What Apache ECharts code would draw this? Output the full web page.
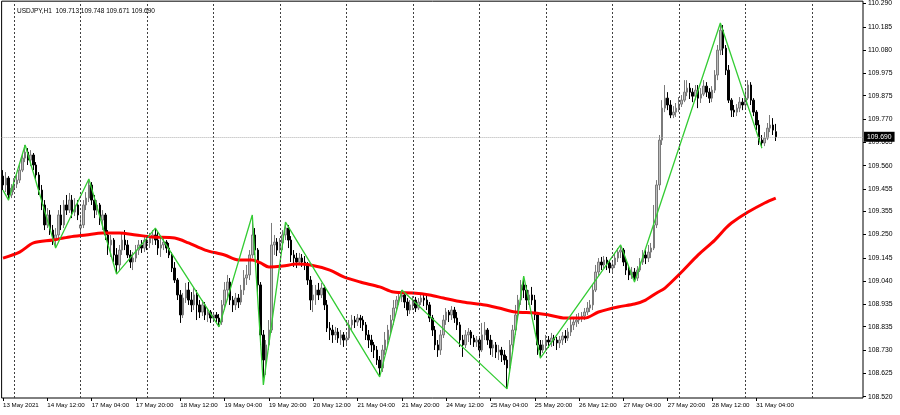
<!DOCTYPE html>
<html>
<head>
<meta charset="utf-8">
<script src="https://cdn.jsdelivr.net/npm/echarts@6/dist/echarts.min.js"></script>
<style>html,body{margin:0;padding:0;background:#fff;}#c{width:900px;height:415px;}</style>
</head>
<body>
<div id="c"></div>
<script>
// trading days shown on the chart (H1 bars)
const days = ['14 May','17 May','18 May','19 May','20 May','21 May','24 May','25 May','26 May','27 May','28 May','31 May','1 Jun'];
const firstDay = '13 May';
const firstHour = 20;
const totalSlots = 311;
const titleText = 'USDJPY,H1  109.713 109.748 109.671 109.690';
const lastPrice = 109.690;
const yTicks = ['108.520','108.625','108.730','108.835','108.935','109.040','109.145','109.250','109.355','109.455','109.560','109.665','109.770','109.875','109.975','110.080','110.185','110.290'];

// candles: [open, close, low, high]
const candles = [
[109.513,109.473,109.450,109.540],[109.473,109.504,109.441,109.531],[109.504,109.428,109.405,109.513],[109.428,109.459,109.414,109.477],
[109.459,109.477,109.441,109.504],[109.477,109.495,109.459,109.518],[109.495,109.540,109.482,109.563],[109.540,109.594,109.531,109.617],
[109.594,109.621,109.576,109.653],[109.621,109.585,109.563,109.639],[109.585,109.608,109.558,109.630],[109.608,109.563,109.540,109.617],
[109.563,109.518,109.495,109.576],[109.518,109.450,109.428,109.531],[109.450,109.383,109.360,109.473],[109.383,109.293,109.270,109.405],
[109.293,109.338,109.279,109.369],[109.338,109.270,109.248,109.360],[109.270,109.225,109.203,109.293],[109.225,109.248,109.189,109.279],
[109.248,109.338,109.234,109.360],[109.338,109.293,109.270,109.383],[109.293,109.383,109.279,109.405],[109.383,109.360,109.338,109.428],
[109.360,109.405,109.347,109.437],[109.405,109.351,109.324,109.428],[109.351,109.383,109.333,109.414],[109.383,109.338,109.315,109.405],
[109.279,109.293,109.257,109.338],[109.293,109.383,109.279,109.405],[109.383,109.414,109.360,109.441],[109.414,109.473,109.396,109.500],
[109.473,109.405,109.383,109.486],[109.405,109.360,109.324,109.428],[109.360,109.383,109.338,109.405],[109.383,109.315,109.293,109.392],
[109.315,109.338,109.270,109.360],[109.338,109.248,109.225,109.347],[109.248,109.203,109.158,109.270],[109.203,109.225,109.149,109.248],
[109.225,109.158,109.126,109.234],[109.158,109.113,109.072,109.189],[109.113,109.180,109.090,109.203],[109.180,109.225,109.158,109.261],
[109.225,109.203,109.180,109.270],[109.203,109.158,109.144,109.225],[109.158,109.126,109.099,109.180],[109.126,109.144,109.090,109.171],
[109.144,109.180,109.126,109.203],[109.180,109.203,109.158,109.225],[109.203,109.189,109.167,109.225],[109.189,109.225,109.171,109.248],
[109.225,109.212,109.180,109.243],[109.212,109.234,109.189,109.257],[109.234,109.248,109.203,109.270],[109.248,109.225,109.203,109.279],
[109.225,109.189,109.158,109.261],[109.189,109.203,109.149,109.234],[109.203,109.216,109.180,109.234],[109.216,109.189,109.167,109.225],
[109.189,109.158,109.144,109.212],[109.158,109.099,109.081,109.171],[109.099,109.045,109.032,109.126],[109.045,108.978,108.955,109.054],
[108.978,108.888,108.852,109.000],[108.888,108.964,108.874,108.987],[108.964,109.000,108.942,109.032],[109.000,108.955,108.933,109.036],
[108.955,108.933,108.901,108.991],[108.933,108.978,108.910,109.009],[108.978,108.933,108.865,109.000],[108.933,108.901,108.874,108.955],
[108.901,108.933,108.883,108.955],[108.933,108.888,108.865,108.946],[108.888,108.901,108.856,108.919],[108.901,108.874,108.852,108.910],
[108.874,108.888,108.861,108.901],[108.888,108.874,108.856,108.901],[108.874,108.856,108.834,108.892],[108.856,108.933,108.843,108.955],
[108.933,109.000,108.910,109.036],[109.000,109.036,108.955,109.068],[109.036,108.955,108.933,109.054],[108.955,108.933,108.901,108.973],
[108.933,108.964,108.910,108.987],[108.964,108.946,108.919,108.982],[108.946,109.000,108.933,109.023],[109.000,109.054,108.978,109.090],
[109.054,109.068,109.023,109.113],[109.068,109.158,109.045,109.180],[109.158,109.248,109.144,109.338],[109.248,109.180,109.158,109.279],
[109.180,109.023,108.991,109.189],[109.023,108.798,108.753,109.036],[108.798,108.685,108.573,108.820],[108.685,108.753,108.618,108.775],
[108.753,108.820,108.730,108.865],[108.820,109.203,108.807,109.302],[109.203,109.216,109.158,109.248],[109.216,109.180,109.153,109.234],
[109.180,109.212,109.167,109.234],[109.212,109.248,109.180,109.270],[109.248,109.279,109.225,109.306],[109.279,109.225,109.189,109.293],
[109.225,109.158,109.126,109.243],[109.158,109.144,109.104,109.180],[109.144,109.126,109.099,109.167],[109.126,109.144,109.113,109.167],
[109.144,109.126,109.104,109.162],[109.126,109.113,109.090,109.153],[109.113,109.045,109.023,109.126],[109.045,108.955,108.910,109.063],
[108.955,108.978,108.901,109.023],[108.978,109.000,108.933,109.023],[109.000,108.978,108.955,109.032],[108.978,109.009,108.964,109.032],
[109.009,108.933,108.910,109.023],[108.933,108.829,108.811,108.955],[108.829,108.820,108.775,108.856],[108.820,108.798,108.762,108.843],
[108.798,108.811,108.775,108.834],[108.811,108.784,108.762,108.829],[108.784,108.798,108.753,108.820],[108.798,108.775,108.744,108.811],
[108.775,108.784,108.753,108.807],[108.784,108.843,108.775,108.865],[108.843,108.865,108.820,108.888],[108.865,108.856,108.829,108.883],
[108.856,108.874,108.838,108.892],[108.874,108.865,108.829,108.888],[108.865,108.843,108.816,108.883],[108.843,108.798,108.775,108.856],
[108.798,108.775,108.739,108.820],[108.775,108.753,108.721,108.798],[108.753,108.730,108.694,108.766],[108.730,108.685,108.663,108.748],
[108.685,108.649,108.609,108.703],[108.649,108.730,108.631,108.753],[108.730,108.775,108.708,108.811],[108.775,108.820,108.753,108.843],
[108.820,108.865,108.798,108.888],[108.865,108.919,108.843,108.955],[108.919,108.955,108.901,108.973],[108.955,108.969,108.933,108.991],
[108.969,108.978,108.946,109.000],[108.978,108.946,108.919,108.991],[108.946,108.910,108.883,108.964],[108.910,108.933,108.892,108.955],
[108.933,108.955,108.910,108.973],[108.955,108.919,108.901,108.969],[108.919,108.946,108.910,108.964],[108.946,108.964,108.933,108.987],
[108.964,108.955,108.928,108.982],[108.955,108.933,108.910,108.978],[108.933,108.874,108.856,108.946],[108.874,108.820,108.793,108.888],
[108.820,108.753,108.730,108.838],[108.753,108.730,108.699,108.775],[108.730,108.798,108.708,108.820],[108.798,108.865,108.784,108.888],
[108.865,108.901,108.843,108.919],[108.901,108.888,108.856,108.910],[108.888,108.910,108.865,108.928],[108.910,108.874,108.852,108.924],
[108.874,108.843,108.820,108.901],[108.843,108.775,108.744,108.856],[108.775,108.753,108.699,108.798],[108.753,108.798,108.739,108.820],
[108.798,108.811,108.766,108.829],[108.811,108.784,108.753,108.820],[108.784,108.766,108.744,108.798],[108.766,108.775,108.744,108.793],
[108.775,108.730,108.699,108.789],[108.730,108.798,108.721,108.852],[108.798,108.820,108.775,108.856],[108.820,108.775,108.753,108.829],
[108.775,108.739,108.708,108.798],[108.739,108.753,108.699,108.775],[108.753,108.721,108.694,108.766],[108.721,108.730,108.685,108.753],
[108.730,108.708,108.676,108.744],[108.708,108.685,108.663,108.730],[108.685,108.649,108.555,108.703],[108.649,108.753,108.631,108.775],
[108.753,108.820,108.730,108.843],[108.820,108.888,108.798,108.933],[108.888,108.955,108.865,108.978],[108.955,109.023,108.933,109.045],
[109.023,109.000,108.964,109.063],[109.000,108.955,108.910,109.023],[108.955,108.978,108.933,109.000],[108.978,108.955,108.933,109.014],
[108.955,108.888,108.865,108.978],[108.888,108.753,108.708,108.901],[108.753,108.730,108.694,108.775],[108.730,108.753,108.717,108.775],
[108.753,108.775,108.730,108.798],[108.775,108.766,108.739,108.793],[108.766,108.784,108.744,108.807],[108.784,108.775,108.748,108.798],
[108.775,108.762,108.730,108.789],[108.762,108.775,108.739,108.793],[108.775,108.793,108.753,108.811],[108.793,108.784,108.762,108.820],
[108.784,108.811,108.771,108.829],[108.811,108.843,108.793,108.874],[108.843,108.856,108.820,108.879],[108.856,108.865,108.834,108.892],
[108.865,108.874,108.847,108.897],[108.874,108.883,108.856,108.901],[108.883,108.901,108.865,108.919],[108.901,108.919,108.888,108.946],
[108.919,108.933,108.901,108.955],[108.933,109.000,108.910,109.023],[109.000,109.081,108.991,109.113],[109.081,109.126,109.063,109.144],
[109.126,109.113,109.090,109.149],[109.113,109.135,109.099,109.153],[109.135,109.122,109.090,109.149],[109.122,109.099,109.077,109.135],
[109.099,109.113,109.081,109.135],[109.113,109.144,109.099,109.167],[109.144,109.171,109.126,109.189],[109.171,109.180,109.144,109.203],
[109.180,109.126,109.108,109.189],[109.126,109.090,109.068,109.144],[109.090,109.068,109.045,109.108],[109.068,109.081,109.050,109.104],
[109.081,109.054,109.036,109.099],[109.054,109.090,109.041,109.108],[109.090,109.126,109.081,109.144],[109.126,109.158,109.113,109.180],
[109.158,109.144,109.117,109.180],[109.144,109.171,109.126,109.203],[109.171,109.189,109.144,109.212],[109.189,109.293,109.180,109.383],
[109.293,109.473,109.279,109.495],[109.473,109.675,109.450,109.698],[109.675,109.819,109.653,109.855],[109.819,109.864,109.801,109.923],
[109.864,109.833,109.810,109.891],[109.833,109.788,109.774,109.855],[109.788,109.801,109.774,109.828],[109.801,109.819,109.779,109.842],
[109.819,109.837,109.801,109.869],[109.837,109.855,109.824,109.878],[109.855,109.891,109.846,109.945],[109.891,109.909,109.873,109.945],
[109.909,109.891,109.860,109.932],[109.891,109.873,109.846,109.909],[109.873,109.900,109.855,109.923],[109.900,109.864,109.819,109.923],
[109.864,109.882,109.842,109.909],[109.882,109.918,109.873,109.945],[109.918,109.891,109.869,109.936],[109.891,109.864,109.842,109.909],
[109.864,109.900,109.846,109.918],[109.900,109.968,109.887,109.990],[109.968,110.080,109.945,110.103],[110.080,110.170,110.058,110.202],
[110.170,110.089,110.058,110.193],[110.089,109.990,109.968,110.103],[109.990,109.855,109.842,110.013],[109.855,109.810,109.779,109.864],
[109.810,109.801,109.779,109.833],[109.801,109.819,109.783,109.837],[109.819,109.846,109.801,109.869],[109.846,109.833,109.810,109.864],
[109.833,109.864,109.819,109.900],[109.864,109.923,109.855,109.945],[109.923,109.855,109.833,109.936],[109.855,109.801,109.783,109.864],
[109.801,109.743,109.720,109.810],[109.743,109.675,109.653,109.765],[109.675,109.662,109.639,109.698],[109.662,109.684,109.648,109.711],
[109.684,109.729,109.675,109.752],[109.729,109.743,109.711,109.788],[109.743,109.720,109.698,109.774],[109.713,109.690,109.671,109.748]
];

// moving average readings: [bar index, value]
const maPoints = [[0,109.144],[6,109.171],[11,109.212],[18,109.225],[24,109.239],[30,109.248],[36,109.257],[42,109.257],[48,109.248],[54,109.239],
[62,109.234],[67,109.212],[73,109.180],[80,109.158],[85,109.135],[90,109.135],[93,109.122],[96,109.104],[101,109.108],[106,109.117],[111,109.113],
[118,109.090],[123,109.059],[129,109.036],[136,109.014],[141,108.991],[148,108.987],[154,108.978],[159,108.964],[166,108.946],[174,108.933],
[179,108.919],[185,108.901],[192,108.897],[197,108.888],[203,108.874],[210,108.874],[215,108.901],[222,108.924],[228,108.937],[232,108.955],
[236,108.987],[239,109.009],[245,109.081],[251,109.158],[257,109.225],[261,109.279],[263,109.302],[269,109.351],[275,109.392],[279,109.414]];

// zigzag pivots: [bar index, price]
const zigzag = [[0,109.450],[2,109.405],[8,109.653],[19,109.189],[31,109.500],[41,109.072],[55,109.279],[78,108.834],[90,109.338],[94,108.573],
[102,109.306],[136,108.609],[144,109.000],[182,108.555],[188,109.063],[194,108.694],[223,109.203],[228,109.036],[259,110.202],[274,109.639]];

// category names
const cats = [];
for (let h = firstHour; h < 24; h++) cats.push(firstDay + ' ' + String(h).padStart(2,'0') + ':00');
for (const d of days) for (let h = 0; h < 24; h++) if (cats.length < totalSlots) cats.push(d + ' ' + String(h).padStart(2,'0') + ':00');

const midnights = cats.filter(c => c.endsWith(' 00:00')).map(c => ({xAxis: c}));
const showLabel = (i) => i % 16 === 0 && i <= 272;

const chart = echarts.init(document.getElementById('c'), null, {renderer: 'canvas'});
chart.setOption({
  animation: false,
  backgroundColor: '#ffffff',
  title: {text: titleText, left: 12, top: 3, textStyle: {fontSize: 6.5, fontWeight: 'normal', color: '#000', fontFamily: 'Liberation Sans'}},
  grid: {left: 1, right: 37, top: 1, bottom: 17, show: true, borderColor: '#000', borderWidth: 1, backgroundColor: 'transparent'},
  xAxis: {
    type: 'category', data: cats, boundaryGap: true,
    axisLine: {show: false},
    axisTick: {show: true, interval: showLabel, alignWithLabel: true, length: 3, lineStyle: {color: '#000'}},
    axisLabel: {interval: showLabel, align: 'left', margin: 4, fontSize: 6.2, color: '#000', fontFamily: 'Liberation Sans',
      formatter: (v, i) => i === 0 ? '13 May 2021' : v},
    splitLine: {show: false}
  },
  yAxis: {
    type: 'value', position: 'right', min: 108.514, max: 110.3005, scale: true,
    axisLine: {show: false},
    axisTick: {show: true, customValues: yTicks.map(Number), length: 3, lineStyle: {color: '#000'}},
    axisLabel: {customValues: yTicks.map(Number), formatter: v => v.toFixed(3), margin: 5, fontSize: 6.8, color: '#000', fontFamily: 'Liberation Sans'},
    splitLine: {show: false}
  },
  series: [
    {type: 'line', data: [], z: 1, silent: true,
     markLine: {symbol: 'none', silent: true, label: {show: false}, lineStyle: {color: '#404040', type: [2, 2], width: 1}, data: midnights}},
    {type: 'candlestick', data: candles, barWidth: 2, z: 2,
     itemStyle: {color: '#bdbdbd', color0: '#000000', borderColor: '#7a7a7a', borderColor0: '#000000', borderWidth: 1},
     markLine: {symbol: 'none', silent: true, data: [{yAxis: lastPrice}],
       lineStyle: {color: '#b0b0b0', type: 'dotted', width: 1},
       label: {position: 'end', formatter: lastPrice.toFixed(3), backgroundColor: '#000', color: '#fff', fontSize: 6.8, padding: [2, 3, 1, 3], distance: 1, fontFamily: 'Liberation Sans'}}},
    {type: 'line', data: maPoints, smooth: 0.3, showSymbol: false, z: 3, lineStyle: {color: '#ff0000', width: 3}},
    {type: 'line', data: zigzag, showSymbol: false, z: 4, lineStyle: {color: '#33cc33', width: 1.3}}
  ]
});
</script>
</body>
</html>
